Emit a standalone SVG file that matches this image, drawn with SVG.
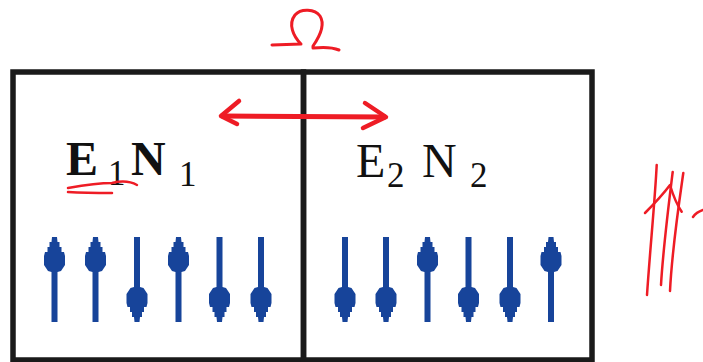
<svg xmlns="http://www.w3.org/2000/svg" width="703" height="362" viewBox="0 0 703 362">
<style>
.frame{fill:none;stroke:#1a1a1a;stroke-width:5.5}
.red{fill:none;stroke:#ee1c25;stroke-linecap:round;stroke-linejoin:round}
.spin{fill:#17449a}
.big{font-family:"Liberation Serif","Times New Roman",serif;font-size:48px;fill:#111}
.sub{font-family:"Liberation Serif","Times New Roman",serif;font-size:35px;fill:#111}
.b{font-weight:bold}
</style>
<defs>
<polygon id="up" points="-2.5,0 2.5,0 3,5 5,5 5,10 7,10 7,15 9.5,15 10.5,19 10.5,28 8.5,31 6.5,34 3,35 3,85 -3,85 -3,35 -6.5,34 -8.5,31 -10.5,28 -10.5,19 -9.5,15 -7,15 -7,10 -5,10 -5,5 -3,5"/>
</defs>
<rect x="0" y="0" width="703" height="362" fill="#fff"/>

<g id="box1">
<rect class="frame" x="13" y="72" width="290.5" height="288"/>
<text class="big b" x="66" y="175">E</text>
<text class="sub" x="108" y="185">1</text>
<text class="big b" x="131" y="175">N</text>
<text class="sub" x="179" y="186">1</text>
<g class="spin">
<use href="#up" transform="translate(54.5,237)"/>
<use href="#up" transform="translate(95.5,237)"/>
<use href="#up" transform="translate(137,322) scale(1,-1)"/>
<use href="#up" transform="translate(178.5,237)"/>
<use href="#up" transform="translate(219.5,322) scale(1,-1)"/>
<use href="#up" transform="translate(261,322) scale(1,-1)"/>
</g>
</g>

<g id="box2">
<rect class="frame" x="303.5" y="72" width="288.5" height="288"/>
<text class="big" x="356" y="176.5">E</text>
<text class="sub" x="387" y="187">2</text>
<text class="big" x="422" y="176.5">N</text>
<text class="sub" x="470" y="187">2</text>
<g class="spin">
<use href="#up" transform="translate(345,322) scale(1,-1)"/>
<use href="#up" transform="translate(386,322) scale(1,-1)"/>
<use href="#up" transform="translate(427.5,237)"/>
<use href="#up" transform="translate(468.5,322) scale(1,-1)"/>
<use href="#up" transform="translate(510,322) scale(1,-1)"/>
<use href="#up" transform="translate(551,237)"/>
</g>
</g>

<g id="connectors">
<path class="red" stroke-width="5" d="M222,116 L385,117"/>
<path class="red" stroke-width="4.5" d="M239,101 L221,116 L237,124"/>
<path class="red" stroke-width="4.5" d="M365,103 L386,117 L363,128"/>
</g>

<g id="annotations">
<path class="red" stroke-width="3" d="M272,45 L301,44 C293,36 288,24 295,15 C301,8 315,9 320,16 C325,24 320,36 313,46 L313,48 C322,47 332,47 339,50"/>
<path class="red" stroke-width="2.5" d="M68,188 C85,185 100,183 112,183 C120,181 128,180 137,185"/>
<path class="red" stroke-width="2.5" d="M68,192 C85,193 100,193 112,193"/>
<path class="red" stroke-width="2.5" d="M656.7,165 C655,200 650,250 647,295"/>
<path class="red" stroke-width="2.5" d="M672.7,172 C668,210 663,250 661,285"/>
<path class="red" stroke-width="2.5" d="M683.3,173 C678,210 672,250 670,291"/>
<path class="red" stroke-width="2.5" d="M645,213 C655,203 664,193 670,185 C673,195 677,205 681.7,211.7"/>
<path class="red" stroke-width="2.5" d="M693,217 C695,214 697,212 703,210"/>
</g>
</svg>
